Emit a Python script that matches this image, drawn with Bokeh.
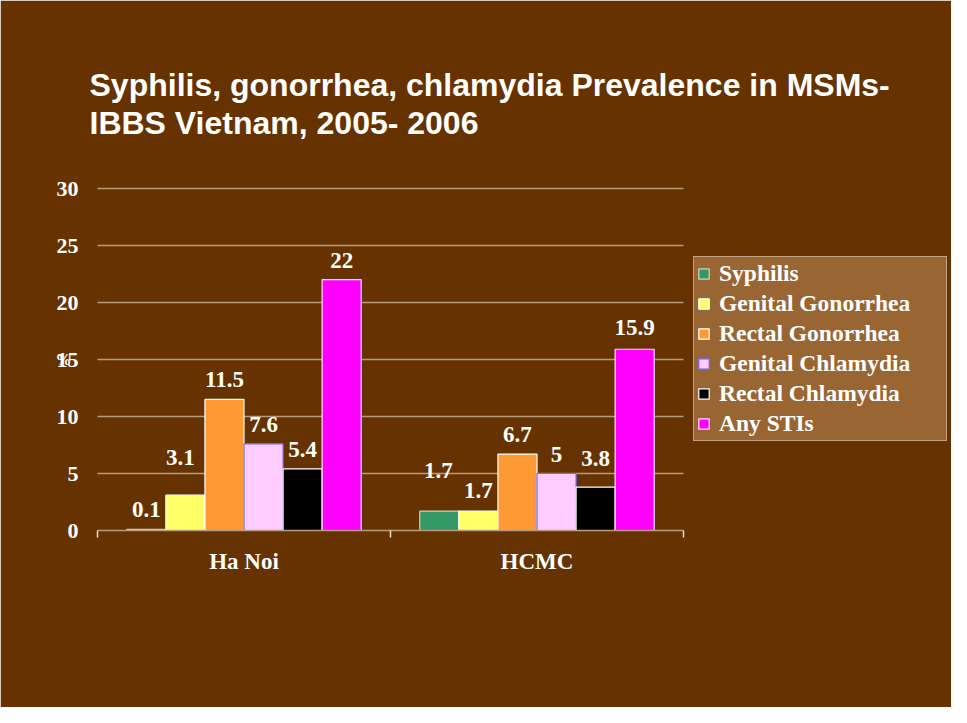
import numpy as np
from bokeh.plotting import figure
from bokeh.models import (ColumnDataSource, Range1d, FixedTicker, Legend, LegendItem,
                          Label, LabelSet)
from bokeh.embed import file_html
from bokeh.resources import INLINE

# ---- data ----
cities = ["Ha Noi", "HCMC"]
series = ["Syphilis", "Genital Gonorrhea", "Rectal Gonorrhea",
          "Genital Chlamydia", "Rectal Chlamydia", "Any STIs"]
syphilis = [0.1, 1.7]
genital_gonorrhea = [3.1, 1.7]
rectal_gonorrhea = [11.5, 6.7]
genital_chlamydia = [7.6, 5.0]
rectal_chlamydia = [5.4, 3.8]
any_stis = [22, 15.9]
value_text = [["0.1", "1.7"], ["3.1", "1.7"], ["11.5", "6.7"],
              ["7.6", "5"], ["5.4", "3.8"], ["22", "15.9"]]
y_ticks = [0, 5, 10, 15, 20, 25, 30]
y_label = "%"
title_lines = ["Syphilis, gonorrhea, chlamydia Prevalence in MSMs-",
               "IBBS Vietnam, 2005- 2006"]

# ---- styles ----
fill_colors = ["#339966", "#ffff66", "#ff9933", "#ffccff", "#000000", "#ff00ff"]
line_colors = ["#d8d0c0", "#ffffff", "#ffffff", "#6a6aff", "#ffffff", "#ffe0ff"]
# extra pixel nudges for value labels (per series, per city)
label_dy = [[0, 21], [18, 1], [0, 0], [0, 0], [0, 9], [0, 2]]
label_dx = [[0, -1], [-5, 0], [0, 0], [0, 0], [0, 0], [0, 0]]
BG = "#663300"
GRID = "#b89c80"
SERIF = "Liberation Serif"
SANS = "Liberation Sans"

all_values = [syphilis, genital_gonorrhea, rectal_gonorrhea,
              genital_chlamydia, rectal_chlamydia, any_stis]

# ---- layout geometry (pixels) ----
W, H = 951, 707
BORDER_L, BORDER_R, BORDER_T, BORDER_B = 48, 4, 4, 177
PLOT_L = 97           # x pixel where the first category starts
CAT_PX = 293          # pixels per category
VALUE_PX = 342        # pixels for the 0..30 value span
frame_w = W - BORDER_L - BORDER_R
frame_h = H - BORDER_T - BORDER_B
frame_bottom = H - BORDER_B
x0 = -(PLOT_L - BORDER_L) / CAT_PX
x1 = x0 + frame_w / CAT_PX
y_top = y_ticks[-1] * frame_h / VALUE_PX

p = figure(width=W, height=H, output_backend="svg", toolbar_location=None,
           x_range=Range1d(x0, x1), y_range=Range1d(0, y_top),
           min_border_left=BORDER_L, min_border_right=BORDER_R,
           min_border_top=BORDER_T, min_border_bottom=BORDER_B)
p.background_fill_color = BG
p.border_fill_color = BG
p.outline_line_color = BG
p.outline_line_width = 2
p.xgrid.grid_line_color = None
p.ygrid.grid_line_color = None

# y axis (labels drawn inward, toward the plot area)
p.yaxis.ticker = FixedTicker(ticks=y_ticks)
p.yaxis.axis_line_color = None
p.yaxis.major_tick_line_color = None
p.yaxis.major_tick_out = 0
p.yaxis.major_tick_in = 0
p.yaxis.minor_tick_line_color = None
p.yaxis.major_label_standoff = -(PLOT_L - BORDER_L - 19)
p.yaxis.major_label_text_font = SERIF
p.yaxis.major_label_text_font_style = "bold"
p.yaxis.major_label_text_font_size = "22px"
p.yaxis.major_label_text_color = "white"

# x axis
centers = np.arange(len(cities)) + 0.5
boundaries = list(np.arange(len(cities) + 1).astype(float))
p.xaxis.bounds = (0, len(cities))
p.xaxis.ticker = FixedTicker(ticks=list(centers), minor_ticks=boundaries)
p.xaxis.major_label_overrides = {float(c): name for c, name in zip(centers, cities)}
p.xaxis.axis_line_color = GRID
p.xaxis.axis_line_width = 1.5
p.xaxis.major_tick_line_color = None
p.xaxis.minor_tick_line_color = "#e8dcd0"
p.xaxis.minor_tick_line_width = 1.5
p.xaxis.minor_tick_in = 0
p.xaxis.minor_tick_out = 7
p.xaxis.major_label_standoff = 11
p.xaxis.major_label_text_font = SERIF
p.xaxis.major_label_text_font_style = "bold"
p.xaxis.major_label_text_font_size = "23px"
p.xaxis.major_label_text_color = "white"

# horizontal gridlines over the category span
gy = y_ticks[1:]
p.segment(x0=[0] * len(gy), x1=[len(cities)] * len(gy), y0=gy, y1=gy,
          line_color=GRID, line_width=1.5)

# bars
n = len(series)
bar_w = 0.8 / n
items = []
lab_x, lab_y, lab_t, lab_dx, lab_dy = [], [], [], [], []
for j, (name, vals) in enumerate(zip(series, all_values)):
    xs = centers + (j - (n - 1) / 2) * bar_w
    src = ColumnDataSource(dict(x=xs, top=vals))
    r = p.vbar(x="x", top="top", width=bar_w, source=src,
               fill_color=fill_colors[j], line_color=line_colors[j], line_width=1.2)
    items.append(LegendItem(label=name, renderers=[r]))
    lab_x += list(xs)
    lab_y += list(vals)
    lab_t += value_text[j]
    lab_dx += label_dx[j]
    lab_dy += [12 + d for d in label_dy[j]]

lsrc = ColumnDataSource(dict(x=lab_x, y=lab_y, t=lab_t, dx=lab_dx, dy=lab_dy))
p.add_layout(LabelSet(x="x", y="y", text="t", x_offset="dx", y_offset="dy", source=lsrc,
                      text_align="center", text_baseline="alphabetic",
                      text_font=SERIF, text_font_style="bold",
                      text_font_size="23px", text_color="white"))

# "%" unit marker, overlapping the 15 tick as in the source slide
p.add_layout(Label(x=15, y=15, x_units="screen", text=y_label,
                   text_align="center", text_baseline="middle",
                   text_font=SERIF, text_font_style="bold",
                   text_font_size="16px", text_color="white"))

# title (two lines)
for line, base in zip(title_lines, [84, 122]):
    p.add_layout(Label(x=89 - BORDER_L, y=frame_bottom - base,
                       x_units="screen", y_units="screen", text=line,
                       text_align="left", text_baseline="alphabetic",
                       text_font=SANS, text_font_style="bold",
                       text_font_size="32px", text_color="white"))

legend = Legend(items=items, location=(693 - BORDER_L, frame_bottom - 441), margin=0,
                padding=3, spacing=3, glyph_width=13, glyph_height=13,
                label_standoff=9, label_width=224,
                label_text_font=SERIF, label_text_font_style="bold",
                label_text_font_size="23.5px", label_text_color="white",
                background_fill_color="#996633", background_fill_alpha=1,
                border_line_color="#e8dcd0", border_line_width=1.5)
p.add_layout(legend)

open("out.html", "w").write(file_html(p, INLINE))
